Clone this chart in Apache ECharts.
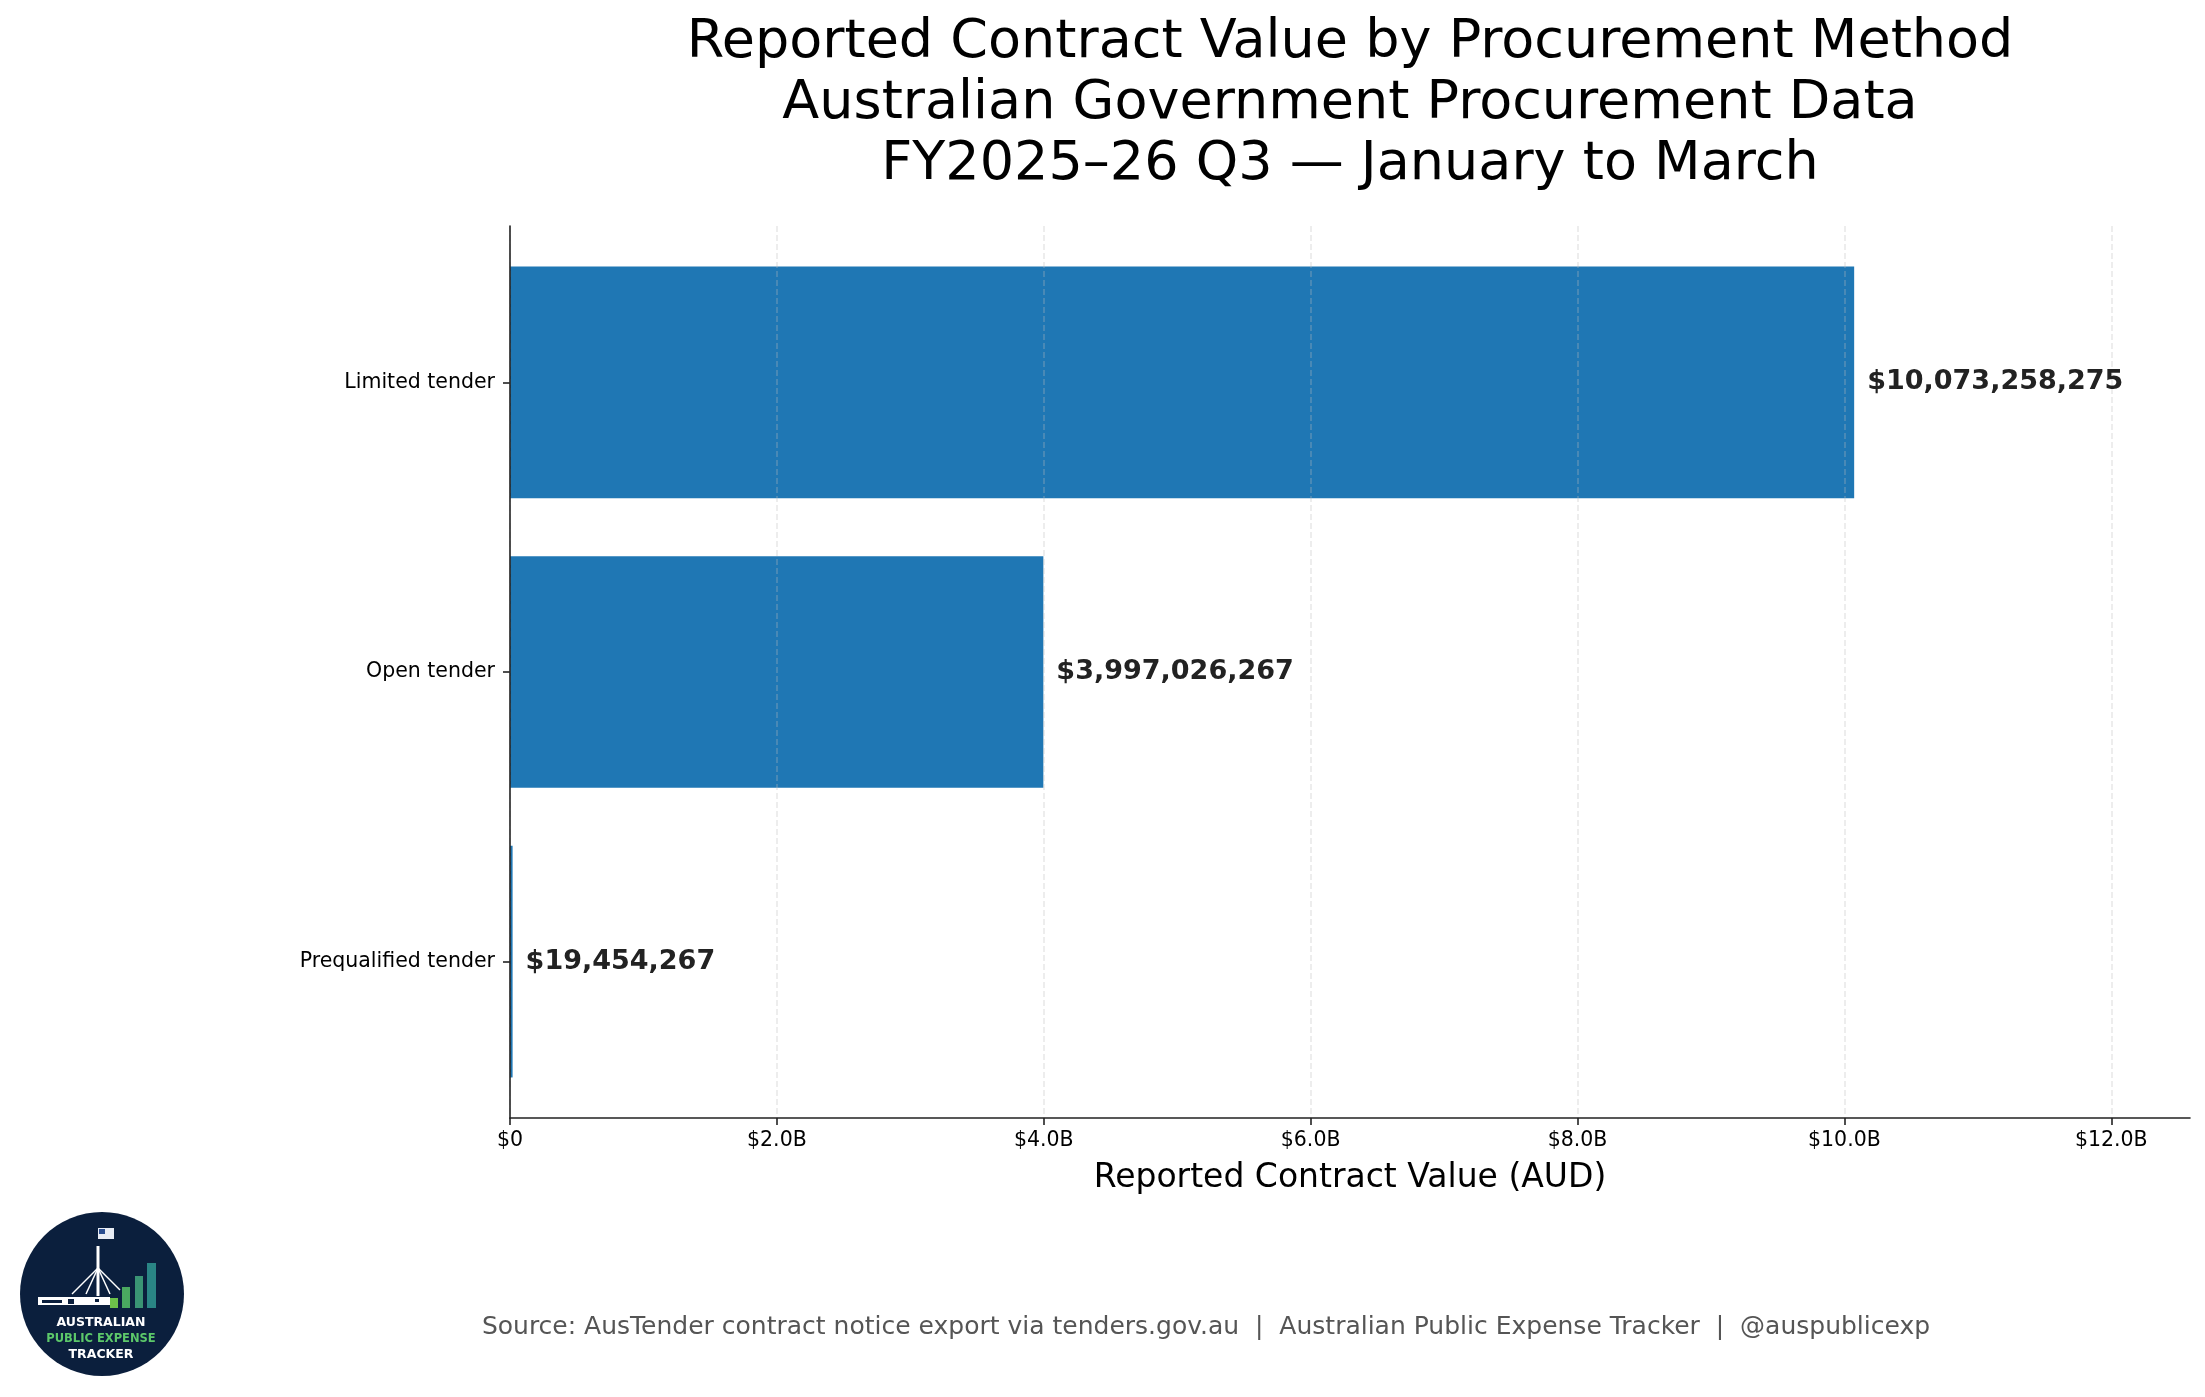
<!DOCTYPE html>
<html>
<head>
<meta charset="utf-8">
<script src="https://cdn.jsdelivr.net/npm/echarts@6/dist/echarts.min.js"></script>
<style>
html,body{margin:0;padding:0;background:#fff;}
#chart{width:2205px;height:1397px;}
</style>
</head>
<body>
<div id="chart"></div>
<script>
const categories = ['Limited tender', 'Open tender', 'Prequalified tender'];
const values = [10073258275, 3997026267, 19454267];
const xTickValues = [0, 2e9, 4e9, 6e9, 8e9, 10e9, 12e9];
const xMax = 12.59e9;
const titleLines = ['Reported Contract Value by Procurement Method', 'Australian Government Procurement Data', 'FY2025\u201326 Q3 \u2014 January to March'];
const xAxisTitle = 'Reported Contract Value (AUD)';
const footerText = 'Source: AusTender contract notice export via tenders.gov.au  |  Australian Public Expense Tracker  |  @auspublicexp';

const FONT = 'DejaVu Sans';
const chart = echarts.init(document.getElementById('chart'), null, {renderer: 'canvas'});

function fmtTick(v) { return v === 0 ? '$0' : '$' + (v / 1e9).toFixed(1) + 'B'; }
function fmtVal(v) { return '$' + Math.round(v).toLocaleString('en-US'); }

const option = {
  backgroundColor: '#ffffff',
  animation: false,
  grid: [
    {left: 510, right: 15, top: 237.6, bottom: 290.6, containLabel: false},
    {left: 510, right: 15, top: 226, bottom: 279, containLabel: false}
  ],
  xAxis: [
    {gridIndex: 0, type: 'value', min: 0, max: xMax, show: false},
    {
      gridIndex: 1, type: 'value', min: 0, max: xMax, interval: 2e9, z: 3,
      axisLine: {show: true, lineStyle: {color: '#222', width: 1.6}},
      axisTick: {show: true, length: 7, customValues: xTickValues, lineStyle: {color: '#222', width: 1.6}},
      axisLabel: {customValues: xTickValues, formatter: fmtTick, fontFamily: FONT, fontSize: 20.5, color: '#000', margin: 12},
      splitLine: {show: true, lineStyle: {color: 'rgba(188,188,188,0.3)', width: 1.8, type: [6, 3]}},
      name: xAxisTitle, nameLocation: 'middle', nameGap: 44,
      nameTextStyle: {fontFamily: FONT, fontSize: 33, color: '#000'}
    }
  ],
  yAxis: [
    {
      gridIndex: 0, type: 'category', data: categories, inverse: true,
      axisLine: {show: false},
      axisTick: {show: true, length: 7, alignWithLabel: true, lineStyle: {color: '#222', width: 1.6}},
      axisLabel: {fontFamily: FONT, fontSize: 20.5, color: '#000', margin: 15},
      splitLine: {show: false}
    },
    {
      gridIndex: 1, type: 'value', min: 0, max: 1, z: 6,
      axisLine: {show: true, lineStyle: {color: '#222', width: 1.6}},
      axisTick: {show: false}, axisLabel: {show: false}, splitLine: {show: false}
    }
  ],
  series: [
    {
      type: 'bar', xAxisIndex: 0, yAxisIndex: 0, data: values, barWidth: 231.7, z: 2,
      itemStyle: {color: '#1f77b4'}
    },
    {
      type: 'bar', xAxisIndex: 0, yAxisIndex: 0, data: values, barWidth: 231.7, barGap: '-100%', z: 5,
      itemStyle: {color: 'rgba(0,0,0,0)'},
      label: {show: true, position: 'right', distance: 13, formatter: p => fmtVal(p.value),
        fontFamily: FONT, fontSize: 27, fontWeight: 'bold', color: '#222'}
    }
  ],
  graphic: [
    {type: 'text', x: 1350, y: 12, z: 10, style: {text: titleLines.join('\n'), fontFamily: FONT, fontSize: 54, lineHeight: 61, fill: '#000', align: 'center', verticalAlign: 'top'}},
    {type: 'text', x: 1206, y: 1327, z: 10, style: {text: footerText, fontFamily: FONT, fontSize: 25, fill: '#555', align: 'center', verticalAlign: 'middle'}},
    {type: 'group', z: 10, children: [
      {type: 'circle', shape: {cx: 102, cy: 1294, r: 82}, style: {fill: '#0b1f3d'}},
      {type: 'rect', shape: {x: 38, y: 1297, width: 72, height: 8}, style: {fill: '#ffffff'}},
      {type: 'rect', shape: {x: 42, y: 1300, width: 20, height: 3}, style: {fill: '#0b1f3d'}},
      {type: 'rect', shape: {x: 68, y: 1299, width: 6, height: 5}, style: {fill: '#0b1f3d'}},
      {type: 'rect', shape: {x: 95, y: 1299, width: 4, height: 3}, style: {fill: '#0b1f3d'}},
      {type: 'line', shape: {x1: 98, y1: 1246, x2: 98, y2: 1296}, style: {stroke: '#ffffff', lineWidth: 3}},
      {type: 'rect', shape: {x: 98, y: 1228, width: 16, height: 11}, style: {fill: '#e8ecf4'}},
      {type: 'rect', shape: {x: 99, y: 1229, width: 6, height: 5}, style: {fill: '#2a4d8f'}},
      {type: 'line', shape: {x1: 98, y1: 1268, x2: 72, y2: 1294}, style: {stroke: '#ffffff', lineWidth: 1.5}},
      {type: 'line', shape: {x1: 98, y1: 1268, x2: 86, y2: 1294}, style: {stroke: '#ffffff', lineWidth: 1.5}},
      {type: 'line', shape: {x1: 98, y1: 1268, x2: 110, y2: 1294}, style: {stroke: '#ffffff', lineWidth: 1.5}},
      {type: 'line', shape: {x1: 98, y1: 1268, x2: 120, y2: 1290}, style: {stroke: '#ffffff', lineWidth: 1.5}},
      {type: 'rect', shape: {x: 110, y: 1298, width: 8, height: 10}, style: {fill: '#6cc04a'}},
      {type: 'rect', shape: {x: 122, y: 1287, width: 8, height: 21}, style: {fill: '#4aa860'}},
      {type: 'rect', shape: {x: 135, y: 1276, width: 8, height: 32}, style: {fill: '#3a9474'}},
      {type: 'rect', shape: {x: 147, y: 1263, width: 9, height: 45}, style: {fill: '#2a8585'}},
      {type: 'text', x: 101, y: 1323, style: {text: 'AUSTRALIAN', fontFamily: FONT, fontSize: 12.5, fontWeight: 'bold', fill: '#ffffff', align: 'center', verticalAlign: 'middle'}},
      {type: 'text', x: 101, y: 1339, style: {text: 'PUBLIC EXPENSE', fontFamily: FONT, fontSize: 11.5, fontWeight: 'bold', fill: '#5cc86a', align: 'center', verticalAlign: 'middle'}},
      {type: 'text', x: 101, y: 1355, style: {text: 'TRACKER', fontFamily: FONT, fontSize: 12.5, fontWeight: 'bold', fill: '#ffffff', align: 'center', verticalAlign: 'middle'}}
    ]}
  ]
};
chart.setOption(option);
</script>
</body>
</html>
